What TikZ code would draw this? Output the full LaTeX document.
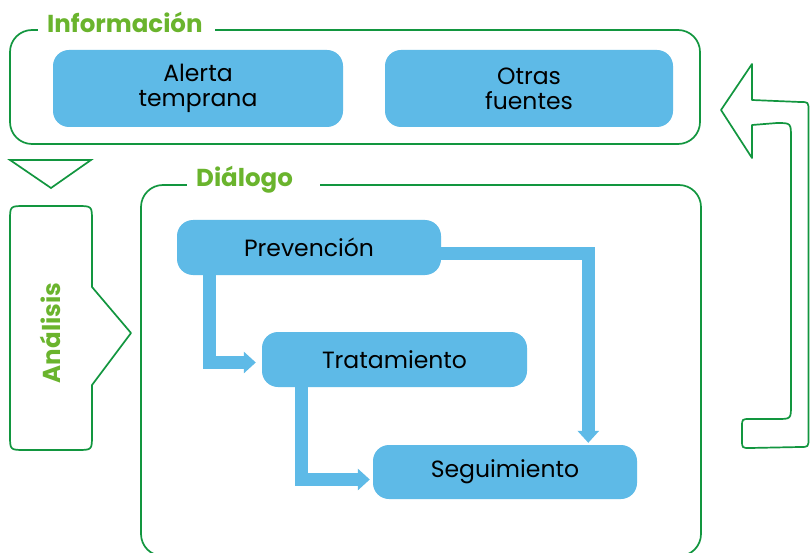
\documentclass[tikz,border=0pt]{standalone}
\usepackage{fontspec}
\setmainfont{Poppins}
\usetikzlibrary{arrows.meta}
\definecolor{boxblue}{RGB}{94,186,231}
\definecolor{framegreen}{RGB}{18,150,63}
\definecolor{titlegreen}{RGB}{106,180,45}
\tikzset{
  blk/.style={fill=boxblue, draw=none, rounded corners=16pt, text=black, align=center,
    font=\fontsize{23.5}{25}\selectfont, inner sep=0pt},
  frm/.style={draw=framegreen, line width=1.7pt, rounded corners=22pt, inner sep=0pt},
  gline/.style={draw=framegreen, line width=1.7pt, line join=round},
  ttl/.style={text=titlegreen, fill=white, inner xsep=9pt, inner ysep=3pt, anchor=base west,
    font=\fontsize{24.5}{26}\selectfont\bfseries},
  band/.style={draw=boxblue, line width=13pt,
    -{Triangle[length=12pt, width=21pt]}},
}
\begin{document}
\begin{tikzpicture}[x=1pt,y=-1pt]
\useasboundingbox (0,0) rectangle (810,553);
\fill[white] (0,0) rectangle (810,553);
% Informacion frame
\node[frm, minimum width=690pt, minimum height=114pt] (info) at (355,87) {};
\node[ttl] (infot) at (38,33) {Información\hspace*{3pt}};
\node[blk, minimum width=290pt, minimum height=77pt] (alerta) at (198,88.5) {Alerta\\temprana};
\node[blk, minimum width=288pt, minimum height=77pt] (otras) at (529,88.5) {Otras\\fuentes};
% triangle
\draw[gline, line join=miter] (10,160) -- (91,160) -- (51,188) -- cycle;
% Analisis
\draw[gline] (25,206) -- (77,206) .. controls (92,206) .. (92,221) -- (92,287) -- (131,333) -- (92,385)
  -- (92,435) .. controls (92,450) .. (77,450) -- (25,450) .. controls (10,450) .. (10,435)
  -- (10,221) .. controls (10,206) .. (25,206) -- cycle;
\node[text=titlegreen, rotate=90, font=\fontsize{24.5}{26}\selectfont\bfseries] (anal) at (50,333) {Análisis};
% Dialogo frame
\begin{scope}
\clip (0,0) rectangle (810,553);
\node[frm, minimum width=560pt, minimum height=371pt] (dial) at (421,370.5) {};
\end{scope}
\node[ttl] (dialt) at (187,187) {Diálogo\hspace*{18pt}};
% inner boxes
\node[blk, minimum width=264pt, minimum height=55pt] (prev) at (309,247.5) {Prevención};
\node[blk, minimum width=265pt, minimum height=55pt] (trat) at (394.5,359.5) {Tratamiento};
\node[blk, minimum width=264pt, minimum height=54pt] (seg) at (505,472) {Seguimiento};
% connectors
\draw[band, shorten >=6pt] ([xshift=33pt]prev.south west) |- ([yshift=-3pt]trat.west);
\draw[band, shorten >=3pt] ([xshift=40pt]trat.south west) |- ([yshift=-7.5pt]seg.west);
\draw[band, shorten >=2pt] ([yshift=-5.5pt]prev.east) -| ([xshift=215.5pt]seg.north west);
% return arrow
\draw[gline] (721,110) -- (752,64) -- (752,100) -- (800,102) .. controls (808.5,102) .. (808.5,111)
  -- (808.5,438) .. controls (808.5,447) .. (800,447) -- (750,448) .. controls (742,448) .. (742,440)
  -- (742,427) .. controls (742,419) .. (750,419) -- (777,419) .. controls (791,419) .. (791,405)
  -- (791,138) .. controls (791,123) .. (777,123) -- (752,125) -- (752,158) -- cycle;
\end{tikzpicture}
\end{document}
